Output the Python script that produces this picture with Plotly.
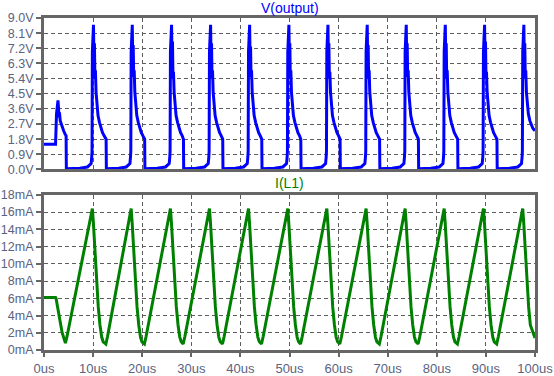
import plotly.graph_objects as go

# ---------------- data ----------------
# V(output): time in microseconds, value in volts
v_time = [
    0.0, 2.35, 2.55, 2.75, 2.85, 2.95, 3.05, 3.15, 3.3, 3.5, 3.75, 4.0, 4.3, 4.5, 4.55, 5.5, 7.3,
    8.85, 9.45, 9.6, 9.72, 9.78, 9.85, 9.93, 10.08, 10.17, 10.27, 10.37, 10.47, 10.6, 10.8, 11.0, 11.3, 11.6, 11.9, 12.25, 12.65, 12.7, 13.5, 15.2,
    16.75, 17.35, 17.5, 17.62, 17.68, 17.75, 17.83, 17.98, 18.07, 18.17, 18.27, 18.37, 18.5, 18.7, 18.9, 19.2, 19.5, 19.8, 20.15, 20.5, 20.55, 21.35, 23.05,
    24.75, 25.35, 25.5, 25.62, 25.68, 25.75, 25.83, 25.98, 26.07, 26.17, 26.27, 26.37, 26.5, 26.7, 26.9, 27.2, 27.5, 27.8, 28.15, 28.4, 28.45, 29.25, 30.95,
    32.7, 33.3, 33.45, 33.57, 33.63, 33.7, 33.78, 33.93, 34.02, 34.12, 34.22, 34.32, 34.45, 34.65, 34.85, 35.15, 35.45, 35.75, 36.1, 36.4, 36.45, 37.25, 38.95,
    40.65, 41.25, 41.4, 41.52, 41.58, 41.65, 41.73, 41.88, 41.97, 42.07, 42.17, 42.27, 42.4, 42.6, 42.8, 43.1, 43.4, 43.7, 44.05, 44.35, 44.4, 45.2, 46.9,
    48.65, 49.25, 49.4, 49.52, 49.58, 49.65, 49.73, 49.88, 49.97, 50.07, 50.17, 50.27, 50.4, 50.6, 50.8, 51.1, 51.4, 51.7, 52.05, 52.3, 52.35, 53.15, 54.85,
    56.6, 57.2, 57.35, 57.47, 57.53, 57.6, 57.68, 57.83, 57.92, 58.02, 58.12, 58.22, 58.35, 58.55, 58.75, 59.05, 59.35, 59.65, 60.0, 60.3, 60.35, 61.15, 62.85,
    64.6, 65.2, 65.35, 65.47, 65.53, 65.6, 65.68, 65.83, 65.92, 66.02, 66.12, 66.22, 66.35, 66.55, 66.75, 67.05, 67.35, 67.65, 68.0, 68.35, 68.4, 69.2, 70.9,
    72.55, 73.15, 73.3, 73.42, 73.48, 73.55, 73.63, 73.78, 73.87, 73.97, 74.07, 74.17, 74.3, 74.5, 74.7, 75.0, 75.3, 75.6, 75.95, 76.25, 76.3, 77.1, 78.8,
    80.5, 81.1, 81.25, 81.37, 81.43, 81.5, 81.58, 81.73, 81.82, 81.92, 82.02, 82.12, 82.25, 82.45, 82.65, 82.95, 83.25, 83.55, 83.9, 84.25, 84.3, 85.1, 86.8,
    88.5, 89.1, 89.25, 89.37, 89.43, 89.5, 89.58, 89.73, 89.82, 89.92, 90.02, 90.12, 90.25, 90.45, 90.65, 90.95, 91.25, 91.55, 91.9, 92.25, 92.3, 93.1, 94.8,
    96.5, 97.1, 97.25, 97.37, 97.43, 97.5, 97.58, 97.73, 97.82, 97.92, 98.02, 98.12, 98.25, 98.45, 98.65, 98.95, 99.25, 99.55, 100.0,
]
v_vals = [
    1.5, 1.5, 3.3, 3.9, 4.1, 3.7, 3.1, 3.4, 2.9, 2.7, 2.45, 2.3, 2.1, 2.0, 0.05, 0.05, 0.08,
    0.15, 0.28, 0.35, 0.75, 1.1, 7.0, 8.6, 8.6, 6.6, 7.5, 5.4, 5.9, 4.6, 3.8, 3.2, 2.8, 2.45, 2.2, 2.0, 1.8, 0.05, 0.05, 0.08,
    0.15, 0.28, 0.35, 0.75, 1.1, 7.0, 8.6, 8.6, 6.5, 7.4, 5.5, 5.9, 4.6, 3.8, 3.2, 2.8, 2.45, 2.2, 2.0, 1.8, 0.05, 0.05, 0.08,
    0.15, 0.28, 0.35, 0.75, 1.1, 7.0, 8.6, 8.6, 6.7, 7.6, 5.4, 5.8, 4.6, 3.8, 3.2, 2.8, 2.45, 2.2, 2.0, 1.8, 0.05, 0.05, 0.08,
    0.15, 0.28, 0.35, 0.75, 1.1, 7.0, 8.6, 8.6, 6.6, 7.5, 5.4, 5.9, 4.6, 3.8, 3.2, 2.8, 2.45, 2.2, 2.0, 1.8, 0.05, 0.05, 0.08,
    0.15, 0.28, 0.35, 0.75, 1.1, 7.0, 8.6, 8.6, 6.5, 7.3, 5.5, 5.9, 4.6, 3.8, 3.2, 2.8, 2.45, 2.2, 2.0, 1.8, 0.05, 0.05, 0.08,
    0.15, 0.28, 0.35, 0.75, 1.1, 7.0, 8.6, 8.6, 6.6, 7.5, 5.4, 5.9, 4.6, 3.8, 3.2, 2.8, 2.45, 2.2, 2.0, 1.8, 0.05, 0.05, 0.08,
    0.15, 0.28, 0.35, 0.75, 1.1, 7.0, 8.6, 8.6, 6.7, 7.5, 5.4, 5.8, 4.6, 3.8, 3.2, 2.8, 2.45, 2.2, 2.0, 1.8, 0.05, 0.05, 0.08,
    0.15, 0.28, 0.35, 0.75, 1.1, 7.0, 8.6, 8.6, 6.6, 7.4, 5.4, 5.9, 4.6, 3.8, 3.2, 2.8, 2.45, 2.2, 2.0, 1.8, 0.05, 0.05, 0.08,
    0.15, 0.28, 0.35, 0.75, 1.1, 7.0, 8.6, 8.6, 6.5, 7.5, 5.5, 5.9, 4.6, 3.8, 3.2, 2.8, 2.45, 2.2, 2.0, 1.8, 0.05, 0.05, 0.08,
    0.15, 0.28, 0.35, 0.75, 1.1, 7.0, 8.6, 8.6, 6.6, 7.5, 5.4, 5.9, 4.6, 3.8, 3.2, 2.8, 2.45, 2.2, 2.0, 1.8, 0.05, 0.05, 0.08,
    0.15, 0.28, 0.35, 0.75, 1.1, 7.0, 8.6, 8.6, 6.7, 7.6, 5.4, 5.8, 4.6, 3.8, 3.2, 2.8, 2.45, 2.2, 2.0, 1.8, 0.05, 0.05, 0.08,
    0.15, 0.28, 0.35, 0.75, 1.1, 7.0, 8.6, 8.6, 6.6, 7.5, 5.4, 5.9, 4.6, 3.8, 3.3, 2.9, 2.6, 2.45, 2.3,
]

# I(L1): time in microseconds, value in milliamps
i_time = [
    0.0, 2.35, 2.45, 2.7, 3.0, 3.35, 3.7, 4.0, 4.36, 4.7,
    9.85, 10.05, 10.4, 10.75, 11.05, 11.4, 11.75, 12.05, 12.6, 12.95,
    17.75, 17.95, 18.3, 18.65, 18.95, 19.3, 19.65, 19.95, 20.45, 20.8,
    25.75, 25.95, 26.3, 26.65, 26.95, 27.3, 27.65, 27.95, 28.35, 28.7,
    33.7, 33.9, 34.25, 34.6, 34.9, 35.25, 35.6, 35.9, 36.35, 36.7,
    41.65, 41.85, 42.2, 42.55, 42.85, 43.2, 43.55, 43.85, 44.3, 44.65,
    49.65, 49.85, 50.2, 50.55, 50.85, 51.2, 51.55, 51.85, 52.25, 52.6,
    57.6, 57.8, 58.15, 58.5, 58.8, 59.15, 59.5, 59.8, 60.25, 60.6,
    65.6, 65.8, 66.15, 66.5, 66.8, 67.15, 67.5, 67.8, 68.3, 68.65,
    73.55, 73.75, 74.1, 74.45, 74.75, 75.1, 75.45, 75.75, 76.2, 76.55,
    81.5, 81.7, 82.05, 82.4, 82.7, 83.05, 83.4, 83.7, 84.2, 84.55,
    89.5, 89.7, 90.05, 90.4, 90.7, 91.05, 91.4, 91.7, 92.2, 92.55,
    97.5, 97.7, 98.05, 98.4, 98.7, 99.05, 100.0,
]
i_vals = [
    6.1, 6.1, 6.0, 5.3, 4.3, 3.1, 2.0, 1.3, 0.8, 1.6,
    16.4, 14.8, 11.2, 7.6, 5.0, 2.9, 1.5, 0.95, 0.7, 1.6,
    16.4, 14.8, 11.2, 7.6, 5.0, 2.9, 1.5, 0.95, 0.7, 1.6,
    16.4, 14.8, 11.2, 7.6, 5.0, 2.9, 1.5, 0.95, 0.7, 1.6,
    16.4, 14.8, 11.2, 7.6, 5.0, 2.9, 1.5, 0.95, 0.7, 1.6,
    16.4, 14.8, 11.2, 7.6, 5.0, 2.9, 1.5, 0.95, 0.7, 1.6,
    16.4, 14.8, 11.2, 7.6, 5.0, 2.9, 1.5, 0.95, 0.7, 1.6,
    16.4, 14.8, 11.2, 7.6, 5.0, 2.9, 1.5, 0.95, 0.7, 1.6,
    16.4, 14.8, 11.2, 7.6, 5.0, 2.9, 1.5, 0.95, 0.7, 1.6,
    16.4, 14.8, 11.2, 7.6, 5.0, 2.9, 1.5, 0.95, 0.7, 1.6,
    16.4, 14.8, 11.2, 7.6, 5.0, 2.9, 1.5, 0.95, 0.7, 1.6,
    16.4, 14.8, 11.2, 7.6, 5.0, 2.9, 1.5, 0.95, 0.7, 1.6,
    16.4, 14.8, 11.2, 7.6, 5.0, 2.9, 1.4,
]

x_tickvals = [0, 10, 20, 30, 40, 50, 60, 70, 80, 90, 100]
x_ticktext = ["0us", "10us", "20us", "30us", "40us", "50us", "60us", "70us", "80us", "90us", "100us"]
v_tickvals = [0.0, 0.9, 1.8, 2.7, 3.6, 4.5, 5.4, 6.3, 7.2, 8.1, 9.0]
v_ticktext = ["0.0V", "0.9V", "1.8V", "2.7V", "3.6V", "4.5V", "5.4V", "6.3V", "7.2V", "8.1V", "9.0V"]
i_tickvals = [0, 2, 4, 6, 8, 10, 12, 14, 16, 18]
i_ticktext = ["0mA", "2mA", "4mA", "6mA", "8mA", "10mA", "12mA", "14mA", "16mA", "18mA"]

# ---------------- styling ----------------
FRAME = "#666666"
GRID = "#5e5e5e"
FONTFAM = "Liberation Sans, Arial, sans-serif"
XTICKFONT = dict(family=FONTFAM, size=13, color="#5a6380")
YTICKFONT = dict(family=FONTFAM, size=12.5, color="#5a6380")

fig = go.Figure()
fig.add_trace(go.Scatter(x=v_time, y=v_vals, mode="lines", line=dict(color="#0000ff", width=3),
                         xaxis="x", yaxis="y", showlegend=False, hoverinfo="skip"))
fig.add_trace(go.Scatter(x=i_time, y=i_vals, mode="lines", line=dict(color="#008000", width=3),
                         xaxis="x2", yaxis="y2", showlegend=False, hoverinfo="skip"))

common_x = dict(range=[0, 100], showline=True, linecolor=FRAME, linewidth=3, mirror=True,
                showgrid=True, gridcolor=GRID, gridwidth=1, griddash="4px,3px",
                tickvals=x_tickvals, zeroline=False, fixedrange=True, automargin=False)
common_y = dict(showline=True, linecolor=FRAME, linewidth=3, mirror=True,
                showgrid=True, gridcolor=GRID, gridwidth=1, griddash="4px,3px",
                ticks="outside", ticklen=5, tickwidth=2, tickcolor=FRAME,
                tickfont=YTICKFONT, zeroline=False, fixedrange=True, automargin=False)

fig.update_layout(
    width=554, height=376,
    margin=dict(l=44, r=19, t=18, b=26),
    paper_bgcolor="white", plot_bgcolor="white",
    xaxis=dict(**common_x, domain=[0, 1], anchor="y", showticklabels=False, ticks=""),
    yaxis=dict(**common_y, domain=[0.5437, 1], anchor="x", range=[0, 9],
               tickvals=v_tickvals, ticktext=v_ticktext),
    xaxis2=dict(**common_x, domain=[0, 1], anchor="y2", ticktext=x_ticktext,
                ticks="outside", ticklen=4, tickwidth=2, tickcolor=FRAME, tickfont=XTICKFONT),
    yaxis2=dict(**common_y, domain=[0, 0.4675], anchor="x2", range=[0, 18],
                tickvals=i_tickvals, ticktext=i_ticktext),
    annotations=[
        dict(text="V(output)", xref="paper", yref="paper", x=0.5, y=1.030, xanchor="center",
             yanchor="middle", showarrow=False,
             font=dict(family=FONTFAM, size=14, color="#0000ff")),
        dict(text="I(L1)", xref="paper", yref="paper", x=0.5, y=0.503, xanchor="center",
             yanchor="middle", showarrow=False,
             font=dict(family=FONTFAM, size=14, color="#008000")),
    ],
)

fig.write_html("out.html", config={"displayModeBar": False},
               post_script="document.body.style.margin='0px';document.body.style.overflow='hidden';")
